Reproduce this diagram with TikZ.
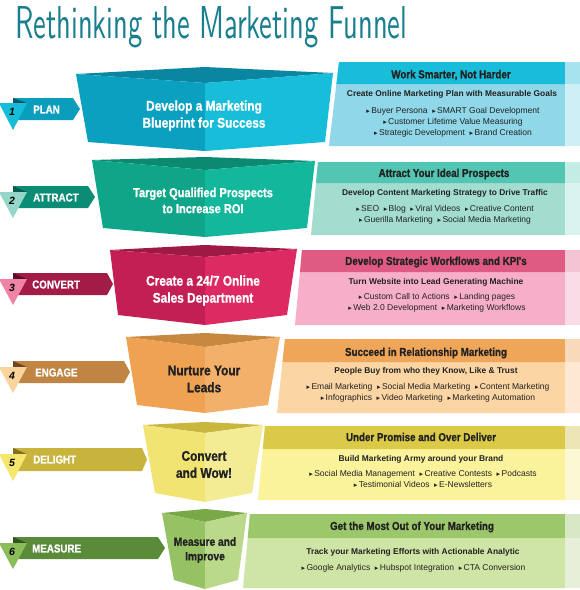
\documentclass[tikz,border=0pt]{standalone}
\usepackage{graphicx}
\usepackage{fontspec}
\setmainfont{Liberation Sans}
\newfontfamily\condfont[FakeStretch=0.85,FakeBold=1]{Liberation Sans Bold}
\newfontfamily\dejavu{DejaVu Sans}
\newcommand\bl{{\dejavu\fontsize{7}{7}\selectfont ▸}\kern1.4pt}
\newcommand\gp{\hspace{0.55em}}
% row 1
\definecolor{fa1}{HTML}{0A86A1}\definecolor{fb1}{HTML}{0AA0BF}\definecolor{fc1}{HTML}{17BDD9}
\definecolor{bn1}{HTML}{0B9EBC}\definecolor{tr1}{HTML}{17BCD9}\definecolor{fd1}{HTML}{0B5566}
\definecolor{ph1}{HTML}{19BDD9}\definecolor{pb1}{HTML}{8FD7E9}\definecolor{sh1}{HTML}{A7E3EE}\definecolor{sb1}{HTML}{CCF0F6}
% row 2
\definecolor{fa2}{HTML}{0B8A71}\definecolor{fb2}{HTML}{0FA589}\definecolor{fc2}{HTML}{12B79C}
\definecolor{bn2}{HTML}{0B8C74}\definecolor{tr2}{HTML}{94D6CA}\definecolor{fd2}{HTML}{075E4D}
\definecolor{ph2}{HTML}{52C6B3}\definecolor{pb2}{HTML}{A2DDD0}\definecolor{sh2}{HTML}{C2ECE4}\definecolor{sb2}{HTML}{D9F3EE}
% row 3
\definecolor{fa3}{HTML}{9E1A45}\definecolor{fb3}{HTML}{C31F55}\definecolor{fc3}{HTML}{DE2A63}
\definecolor{bn3}{HTML}{A31B47}\definecolor{tr3}{HTML}{F184A5}\definecolor{fd3}{HTML}{5E0F28}
\definecolor{ph3}{HTML}{DF5B84}\definecolor{pb3}{HTML}{F7AFC9}\definecolor{sh3}{HTML}{F4C4D4}\definecolor{sb3}{HTML}{FADCE7}
% row 4
\definecolor{fa4}{HTML}{C7883F}\definecolor{fb4}{HTML}{EFA252}\definecolor{fc4}{HTML}{F3B06A}
\definecolor{bn4}{HTML}{C08443}\definecolor{tr4}{HTML}{FBD39C}\definecolor{fd4}{HTML}{70481F}
\definecolor{ph4}{HTML}{F0A659}\definecolor{pb4}{HTML}{FBD5A3}\definecolor{sh4}{HTML}{F6DAB9}\definecolor{sb4}{HTML}{FDE9D3}
% row 5
\definecolor{fa5}{HTML}{C9B63E}\definecolor{fb5}{HTML}{F1E472}\definecolor{fc5}{HTML}{F4EB95}
\definecolor{bn5}{HTML}{C8B33D}\definecolor{tr5}{HTML}{F5E66D}\definecolor{fd5}{HTML}{7D6F1D}
\definecolor{ph5}{HTML}{DBC948}\definecolor{pb5}{HTML}{FBF39C}\definecolor{sh5}{HTML}{ECE6B6}\definecolor{sb5}{HTML}{FCF8D4}
% row 6
\definecolor{fa6}{HTML}{78A848}\definecolor{fb6}{HTML}{97C263}\definecolor{fc6}{HTML}{BAD98B}
\definecolor{bn6}{HTML}{5A8B39}\definecolor{tr6}{HTML}{8CBE58}\definecolor{fd6}{HTML}{33541E}
\definecolor{ph6}{HTML}{9CC86B}\definecolor{pb6}{HTML}{CFE5A5}\definecolor{sh6}{HTML}{D7E6C4}\definecolor{sb6}{HTML}{E6F0D8}
\definecolor{titlec}{HTML}{197F8F}
\definecolor{txt}{HTML}{222222}
\tikzset{
  ftext/.style={font=\condfont\fontsize{14}{17}\selectfont, align=center, inner sep=0},
  htext/.style={font=\condfont\fontsize{11.5}{13}\selectfont, text=txt, inner sep=0},
  sub/.style={font=\bfseries\fontsize{8.4}{10}\selectfont, text=txt, inner sep=0},
  bul/.style={font=\fontsize{8.5}{11}\selectfont, align=center, text=txt, inner sep=0},
  lbl/.style={font=\condfont\fontsize{11.5}{13}\selectfont, text=white, anchor=west, inner sep=0},
  num/.style={font=\bfseries\itshape\fontsize{10.5}{10}\selectfont, text=black, inner sep=0}
}
\begin{document}
\begin{tikzpicture}[x=1pt,y=-1pt]
\useasboundingbox (0,0) rectangle (580,590);
\fill[white] (0,0) rectangle (580,590);
% title
\node[anchor=base west, inner sep=0, text=titlec] (title) at (15,38)
  {\resizebox{392pt}{32pt}{\sffamily Rethinking the Marketing Funnel}};

% ================= ROW 1 =================
\fill[pb1] (339,62) -- (565,62) -- (565,146) -- (329,146) -- cycle;
\fill[ph1] (339,62) -- (565,62) -- (565,84) -- (336.4,84) -- cycle;
\fill[sh1] (565,62) rectangle (580,84);
\fill[sb1] (565,84) rectangle (580,146);
\fill[bn1] (13,98) -- (73,98) -- (80,109) -- (73,120) -- (13,120) -- cycle;
\fill[fd1] (13,98) -- (27,103) -- (13,103) -- cycle;
\fill[tr1] (-1,103) -- (27,103) -- (13,130) -- cycle;
\fill[fa1] (76,74) -- (205,67) -- (333,73) -- (205,83) -- cycle;
\fill[fb1] (76,74) -- (205,83) -- (205,151) -- (88,142) -- cycle;
\fill[fc1] (205,83) -- (333,73) -- (325,142) -- (205,151) -- cycle;
\node[num] (n1) at (12,112) {1};
\node[lbl] (L1) at (33,109.5) {PLAN};
\node[ftext, text=white] (F1) at (204,115.5) {Develop a Marketing\\Blueprint for Success};
\node[htext] (H1) at (451,75) {Work Smarter, Not Harder};
\node[sub] (S1) at (452,94) {Create Online Marketing Plan with Measurable Goals};
\node[bul] (B1) at (453,122) {\bl Buyer Persona\gp\bl SMART Goal Development\\\bl Customer Lifetime Value Measuring\\\bl Strategic Development\gp\bl Brand Creation};

% ================= ROW 2 =================
\fill[pb2] (318,162) -- (565,162) -- (565,235) -- (311,235) -- cycle;
\fill[ph2] (318,162) -- (565,162) -- (565,183) -- (316,183) -- cycle;
\fill[sh2] (565,162) rectangle (580,183);
\fill[sb2] (565,183) rectangle (580,235);
\fill[bn2] (13,186) -- (88,186) -- (95,197) -- (88,208) -- (13,208) -- cycle;
\fill[fd2] (13,186) -- (27,192) -- (13,192) -- cycle;
\fill[tr2] (-1,192) -- (27,192) -- (13,218) -- cycle;
\fill[fa2] (92,160) -- (205,157) -- (315,161) -- (205,170) -- cycle;
\fill[fb2] (92,160) -- (205,170) -- (205,237) -- (103,228) -- cycle;
\fill[fc2] (205,170) -- (315,161) -- (307,228) -- (205,237) -- cycle;
\node[num] (n2) at (12,201) {2};
\node[lbl] (L2) at (33,197.5) {ATTRACT};
\node[ftext, text=white, font=\condfont\fontsize{13}{16}\selectfont] (F2) at (203,200.5) {Target Qualified Prospects\\to Increase ROI};
\node[htext] (H2) at (444,174) {Attract Your Ideal Prospects};
\node[sub] (S2) at (445,193) {Develop Content Marketing Strategy to Drive Traffic};
\node[bul] (B2) at (445,215) {\bl SEO\gp\bl Blog\gp\bl Viral Videos\gp\bl Creative Content\\\bl Guerilla Marketing\gp\bl Social Media Marketing};

% ================= ROW 3 =================
\fill[pb3] (302,250) -- (565,250) -- (565,325) -- (295,325) -- cycle;
\fill[ph3] (302,250) -- (565,250) -- (565,272) -- (300,272) -- cycle;
\fill[sh3] (565,250) rectangle (580,272);
\fill[sb3] (565,272) rectangle (580,325);
\fill[bn3] (13,273) -- (107,273) -- (113,284) -- (107,295) -- (13,295) -- cycle;
\fill[fd3] (13,273) -- (27,279) -- (13,279) -- cycle;
\fill[tr3] (-1,279) -- (27,279) -- (13,305) -- cycle;
\fill[fa3] (110,250) -- (205,245) -- (297,249) -- (205,257) -- cycle;
\fill[fb3] (110,250) -- (205,257) -- (205,325) -- (118,315) -- cycle;
\fill[fc3] (205,257) -- (297,249) -- (287,315) -- (205,325) -- cycle;
\node[num] (n3) at (12,288) {3};
\node[lbl] (L3) at (32,284.5) {CONVERT};
\node[ftext, text=white] (F3) at (203,290.5) {Create a 24/7 Online\\Sales Department};
\node[htext] (H3) at (436,262) {Develop Strategic Workflows and KPI's};
\node[sub] (S3) at (436,282) {Turn Website into Lead Generating Machine};
\node[bul] (B3) at (437,302.5) {\bl Custom Call to Actions\gp\bl Landing pages\\\bl Web 2.0 Development\gp\bl Marketing Workflows};

% ================= ROW 4 =================
\fill[pb4] (285,339) -- (565,339) -- (565,413) -- (277,413) -- cycle;
\fill[ph4] (285,339) -- (565,339) -- (565,362) -- (282.5,362) -- cycle;
\fill[sh4] (565,339) rectangle (580,362);
\fill[sb4] (565,362) rectangle (580,413);
\fill[bn4] (13,361) -- (124,361) -- (130,372) -- (124,383) -- (13,383) -- cycle;
\fill[fd4] (13,361) -- (27,367) -- (13,367) -- cycle;
\fill[tr4] (-1,367) -- (27,367) -- (13,393) -- cycle;
\fill[fa4] (126,337) -- (205,333) -- (280,337) -- (205,347) -- cycle;
\fill[fb4] (126,337) -- (205,347) -- (205,413) -- (137,405) -- cycle;
\fill[fc4] (205,347) -- (280,337) -- (268,405) -- (205,413) -- cycle;
\node[num] (n4) at (12,376) {4};
\node[lbl] (L4) at (35,372.5) {ENGAGE};
\node[ftext, text=txt] (F4) at (204,379) {Nurture Your\\Leads};
\node[htext] (H4) at (426,353) {Succeed in Relationship Marketing};
\node[sub] (S4) at (426,371) {People Buy from who they Know, Like \& Trust};
\node[bul] (B4) at (428,392.5) {\bl Email Marketing\gp\bl Social Media Marketing\gp\bl Content Marketing\\\bl Infographics\gp\bl Video Marketing\gp\bl Marketing Automation};

% ================= ROW 5 =================
\fill[pb5] (265,426) -- (565,426) -- (565,500) -- (258,500) -- cycle;
\fill[ph5] (265,426) -- (565,426) -- (565,449) -- (262.8,449) -- cycle;
\fill[sh5] (565,426) rectangle (580,449);
\fill[sb5] (565,449) rectangle (580,500);
\fill[bn5] (13,448) -- (142,448) -- (147,459.5) -- (142,471) -- (13,471) -- cycle;
\fill[fd5] (13,448) -- (27,454) -- (13,454) -- cycle;
\fill[tr5] (-1,454) -- (27,454) -- (13,481) -- cycle;
\fill[fa5] (143,425) -- (205,422) -- (263,425) -- (205,433) -- cycle;
\fill[fb5] (143,425) -- (205,433) -- (205,502) -- (155,493) -- cycle;
\fill[fc5] (205,433) -- (263,425) -- (252,493) -- (205,502) -- cycle;
\node[num] (n5) at (12,463) {5};
\node[lbl] (L5) at (33,459.5) {DELIGHT};
\node[ftext, text=txt] (F5) at (204,464.5) {Convert\\and Wow!};
\node[htext] (H5) at (421,437) {Under Promise and Over Deliver};
\node[sub] (S5) at (421,459) {Build Marketing Army around your Brand};
\node[bul] (B5) at (423,478.5) {\bl Social Media Management\gp\bl Creative Contests\gp\bl Podcasts\\\bl Testimonial Videos\gp\bl E-Newsletters};

% ================= ROW 6 =================
\fill[pb6] (250,514) -- (565,514) -- (565,588) -- (243,588) -- cycle;
\fill[ph6] (250,514) -- (565,514) -- (565,538) -- (247.7,538) -- cycle;
\fill[sh6] (565,514) rectangle (580,538);
\fill[sb6] (565,538) rectangle (580,588);
\fill[bn6] (13,537) -- (158,537) -- (165,548) -- (158,559) -- (13,559) -- cycle;
\fill[fd6] (13,537) -- (27,543) -- (13,543) -- cycle;
\fill[tr6] (-1,543) -- (27,543) -- (13,569) -- cycle;
\fill[fa6] (162,513) -- (205,509) -- (247,513) -- (205,522) -- cycle;
\fill[fb6] (162,513) -- (205,522) -- (205,589) -- (174,580) -- cycle;
\fill[fc6] (205,522) -- (247,513) -- (238,580) -- (205,589) -- cycle;
\node[num] (n6) at (12,552) {6};
\node[lbl] (L6) at (32,548.5) {MEASURE};
\node[ftext, text=txt, font=\condfont\fontsize{12}{14.5}\selectfont] (F6) at (205,550) {Measure and\\Improve};
\node[htext] (H6) at (412,527) {Get the Most Out of Your Marketing};
\node[sub] (S6) at (413,552) {Track your Marketing Efforts with Actionable Analytic};
\node[bul] (B6) at (413.5,568) {\bl Google Analytics\gp\bl Hubspot Integration\gp\bl CTA Conversion};
\end{tikzpicture}
\end{document}
